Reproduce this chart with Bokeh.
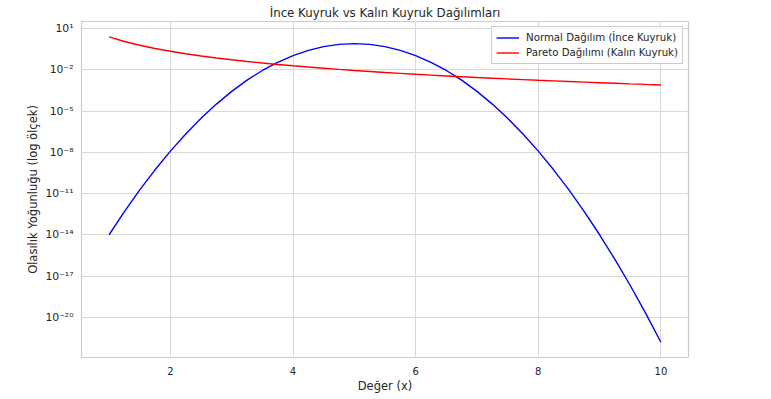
from bokeh.plotting import figure
from bokeh.models import Range1d, FixedTicker, CustomJSTickFormatter, Legend, LegendItem
from bokeh.embed import file_html
from bokeh.resources import INLINE

# x values
x_vals = [1.0, 1.25, 1.5, 1.75, 2.0, 2.25, 2.5, 2.75, 3.0, 3.25, 3.5, 3.75, 4.0, 4.25, 4.5, 4.75,
          5.0, 5.25, 5.5, 5.75, 6.0, 6.25, 6.5, 6.75, 7.0, 7.25, 7.5, 7.75, 8.0, 8.25, 8.5, 8.75,
          9.0, 9.25, 9.5, 9.75, 10.0]

# Normal (thin tail) density values
normal_vals = [1.01e-14, 4.86e-13, 1.83e-11, 5.33e-10, 1.22e-8, 2.15e-7, 2.97e-6, 3.20e-5,
               2.68e-4, 1.75e-3, 8.87e-3, 3.51e-2, 0.108, 0.259, 0.484, 0.704,
               0.798, 0.704, 0.484, 0.259, 0.108, 3.51e-2, 8.87e-3, 1.75e-3,
               2.68e-4, 3.20e-5, 2.97e-6, 2.15e-7, 1.22e-8, 5.33e-10, 1.83e-11, 4.86e-13,
               1.01e-14, 1.63e-16, 2.06e-18, 2.01e-20, 1.54e-22]

# Pareto (heavy tail) density values
pareto_vals = [2.5, 1.145, 0.605, 0.3526, 0.221, 0.1463, 0.1012, 0.0725,
               0.0535, 0.0404, 0.0312, 0.02447, 0.01953, 0.01580, 0.01293, 0.01070,
               0.00895, 0.00754, 0.00641, 0.00548, 0.00472, 0.00410, 0.00357, 0.00313,
               0.00275, 0.002435, 0.002164, 0.001929, 0.001727, 0.001550, 0.001396, 0.001261,
               0.001143, 0.001039, 0.000946, 0.000864, 0.000791]

x_ticks = [2, 4, 6, 8, 10]
y_ticks = [1e1, 1e-2, 1e-5, 1e-8, 1e-11, 1e-14, 1e-17, 1e-20]

title_text = "İnce Kuyruk vs Kalın Kuyruk Dağılımları"
x_label = "Değer (x)"
y_label = "Olasılık Yoğunluğu (log ölçek)"
normal_label = "Normal Dağılım (İnce Kuyruk)"
pareto_label = "Pareto Dağılımı (Kalın Kuyruk)"

FONT = "DejaVu Sans"
TXT = "#262626"
GRID = "#d9d9d9"

p = figure(width=763, height=391, y_axis_type="log", output_backend="svg",
           toolbar_location=None, title=title_text,
           x_range=Range1d(0.55, 10.45), y_range=Range1d(10**-22.92, 10**1.51),
           frame_width=607, frame_height=336,
           min_border_left=81, min_border_right=75, min_border_top=21, min_border_bottom=0)

p.title.text_font = FONT
p.title.text_font_size = "11.8px"
p.title.text_font_style = "normal"
p.title.text_color = TXT
p.title.align = "center"
p.title.standoff = 3
p.title.offset = 0

p.outline_line_color = "#cccccc"
p.outline_line_width = 1.2

p.xaxis.ticker = FixedTicker(ticks=x_ticks)
p.yaxis.ticker = FixedTicker(ticks=y_ticks, minor_ticks=[])
p.yaxis.formatter = CustomJSTickFormatter(code="""
const e = Math.round(Math.log10(tick));
const sup = {'-':'\u207b','0':'\u2070','1':'\u00b9','2':'\u00b2','3':'\u00b3','4':'\u2074','5':'\u2075','6':'\u2076','7':'\u2077','8':'\u2078','9':'\u2079'};
return '10' + String(e).split('').map(c => sup[c]).join('');
""")

for ax in (p.xaxis[0], p.yaxis[0]):
    ax.axis_line_color = None
    ax.major_tick_line_color = None
    ax.minor_tick_line_color = None
    ax.major_tick_out = 0
    ax.major_tick_in = 0
    ax.minor_tick_out = 0
    ax.minor_tick_in = 0
    ax.major_label_text_font = FONT
    ax.major_label_text_color = TXT
    ax.axis_label_text_font = FONT
    ax.axis_label_text_font_size = "11.5px"
    ax.axis_label_text_font_style = "normal"
    ax.axis_label_text_color = TXT

p.xaxis.major_label_text_font_size = "10px"
p.yaxis.major_label_text_font_size = "10.8px"
p.xaxis.axis_label = x_label
p.yaxis.axis_label = y_label
p.xaxis.major_label_standoff = 9
p.xaxis.axis_label_standoff = 1
p.yaxis.major_label_standoff = 8
p.yaxis.axis_label_standoff = 2

p.xgrid.grid_line_color = GRID
p.ygrid.grid_line_color = GRID
p.xgrid.grid_line_width = 1
p.ygrid.grid_line_width = 1

r1 = p.line(x_vals, normal_vals, line_color="#0000ff", line_width=1.4)
r2 = p.line(x_vals, pareto_vals, line_color="#ff0000", line_width=1.4)

legend = Legend(items=[LegendItem(label=normal_label, renderers=[r1]),
                       LegendItem(label=pareto_label, renderers=[r2])],
                location="top_right")
legend.label_text_font = FONT
legend.label_text_font_size = "10.2px"
legend.label_text_color = TXT
legend.border_line_color = "#cccccc"
legend.border_line_alpha = 1
legend.background_fill_alpha = 0.8
legend.margin = 5
legend.padding = 4
legend.spacing = 2
legend.glyph_width = 23
legend.glyph_height = 13
legend.label_height = 13
legend.label_standoff = 7
p.add_layout(legend)

open("out.html", "w").write(file_html(p, INLINE))
